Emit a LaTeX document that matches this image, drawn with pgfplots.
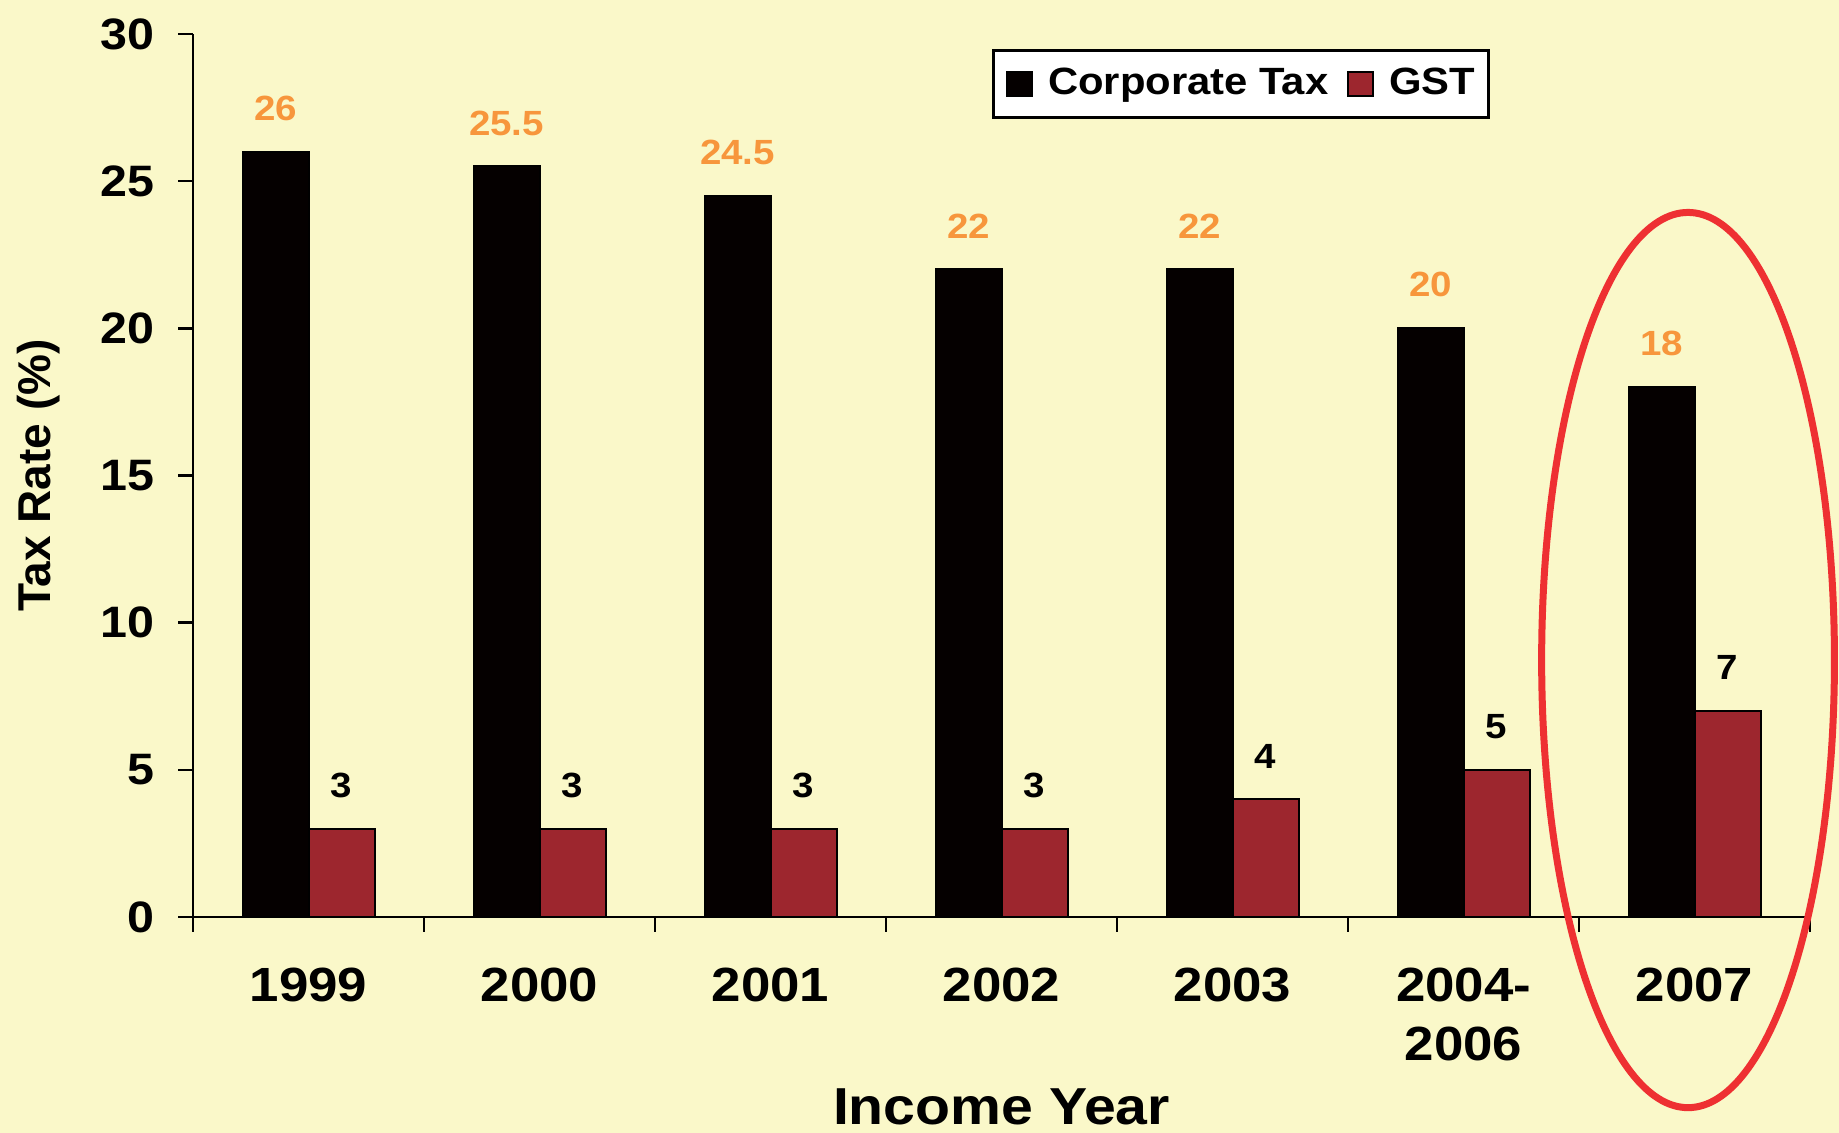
\documentclass[border=0pt]{standalone}
\usepackage{fontspec}
\setmainfont{Liberation Sans}[FakeStretch=1.1]
\newfontfamily\plainfont{Liberation Sans}
\usepackage{pgfplots}
\pgfplotsset{compat=1.18}

\definecolor{bgyel}{HTML}{FAF8C9}
\definecolor{barblack}{HTML}{050000}
\definecolor{barred}{HTML}{9D262E}
\definecolor{lblorange}{HTML}{F7963C}
\definecolor{ringred}{HTML}{EE3032}

\pgfplotsset{sqlegend/.style={legend image code/.code={%
  \draw[##1, line width=0.5pt] (0pt,-3.1pt) rectangle (6.2pt,3.1pt);}}}

\begin{document}
\begin{tikzpicture}
% page = 1839 x 1133 px at 0.25pt per px, axis corner at (193,917)
\path[fill=bgyel, use as bounding box] (-48.25pt,-54pt) rectangle (411.5pt,229.25pt);
\begin{axis}[
  at={(0,0)}, anchor=south west,
  scale only axis, width=404.25pt, height=220.75pt,
  xmin=-0.5, xmax=6.5, ymin=0, ymax=30,
  clip=false,
  axis x line*=bottom, axis y line*=left,
  axis line style={line width=0.6pt, -},
  tick style={line width=0.6pt, black},
  tick align=outside, major tick length=3.75pt,
  /pgf/number format/assume math mode=true,
  ytick={0,5,...,30},
  yticklabel style={font=\fontsize{11}{13}\selectfont\bfseries, anchor=east, inner sep=0pt, xshift=-5.75pt},
  xtick={-0.5,0.5,...,6.5}, xticklabels={},
  extra x ticks={0,1,2,3,4,5,6},
  extra x tick labels={1999,2000,2001,2002,2003,{2004-\\2006},2007},
  extra x tick style={major tick length=0pt},
  xticklabel style={font=\fontsize{12}{14.75}\selectfont\bfseries, align=center, anchor=north, inner sep=0pt, yshift=-12.5pt},
  xlabel={Income Year},
  every axis x label/.style={at={(axis description cs:0.5,-0.2355)}, anchor=base, font=\fontsize{13}{15}\selectfont\bfseries},
  ylabel={Tax Rate (\%)},
  every axis y label/.style={at={(axis description cs:-0.0952,0.5)}, rotate=90, anchor=center, font=\plainfont\bfseries\fontsize{11.5}{13}\selectfont},
  ybar=0pt, bar width=16.5pt,
  nodes near coords,
  every node near coord/.append style={inner sep=0pt, anchor=south, yshift=7.5pt, font=\fontsize{8.75}{10}\selectfont\bfseries},
  legend columns=2,
  legend style={at={(axis description cs:0.494,0.983)}, anchor=north west,
    draw=black, line width=0.75pt, fill=white,
    font=\fontsize{9.5}{11}\selectfont\bfseries,
    inner xsep=3.25pt, inner ysep=4.3pt,
    nodes={inner sep=0pt},
    /tikz/every odd column/.append style={column sep=3.75pt},
    /tikz/every even column/.append style={column sep=4.75pt}},
]
\addplot[fill=barblack, draw=black, line width=0.5pt,
  every node near coord/.append style={text=lblorange}, sqlegend]
  coordinates {(0,26) (1,25.5) (2,24.5) (3,22) (4,22) (5,20) (6,18)};
\addplot[fill=barred, draw=black, line width=0.5pt,
  every node near coord/.append style={text=black}, sqlegend]
  coordinates {(0,3) (1,3) (2,3) (3,3) (4,4) (5,5) (6,7)};
\legend{Corporate Tax, GST}
\draw[ringred, line width=1.75pt] (axis cs:5.972,8.73) ellipse [x radius=36.6pt, y radius=111.9pt];
\end{axis}
\end{tikzpicture}
\end{document}
